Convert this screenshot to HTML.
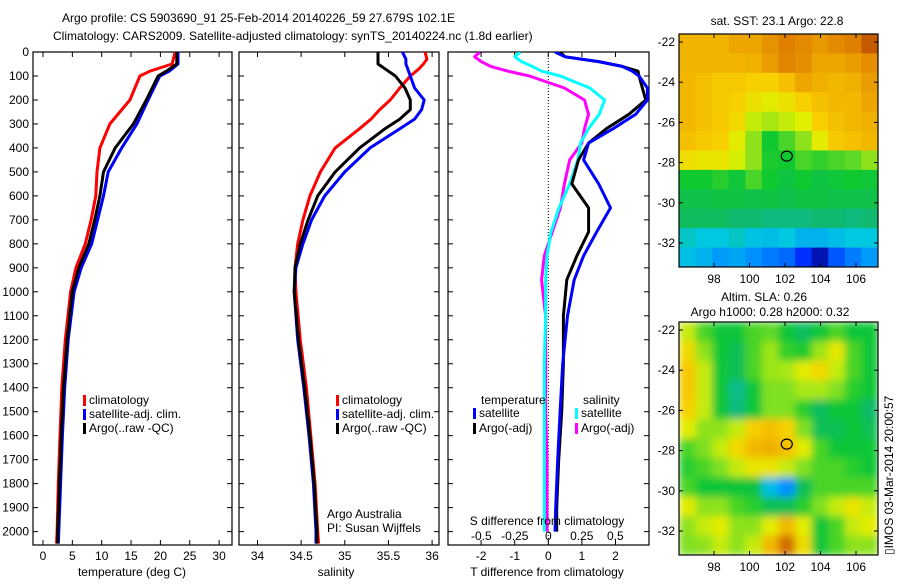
<!DOCTYPE html>
<html><head><meta charset="utf-8"><style>
html,body{margin:0;padding:0;background:#fff;}
svg text{font-family:"Liberation Sans",sans-serif;font-size:12px;fill:#000;}
</style></head><body>
<svg id="fig" width="900" height="580" viewBox="0 0 900 580" xmlns="http://www.w3.org/2000/svg">
<defs>
<filter id="blur" x="0" y="0" width="1" height="1"><feGaussianBlur stdDeviation="4" edgeMode="duplicate"/></filter>
<clipPath id="clip1"><rect x="33" y="52" width="199" height="493"/></clipPath>
<clipPath id="clip2"><rect x="239" y="52" width="200" height="493"/></clipPath>
<clipPath id="clip3"><rect x="448" y="52" width="201" height="493"/></clipPath>
<clipPath id="clipm1"><rect x="679" y="34" width="199" height="233"/></clipPath>
<clipPath id="clipm2"><rect x="679" y="322" width="199" height="233"/></clipPath>
</defs>
<text x="62" y="22">Argo profile: CS 5903690_91 25-Feb-2014 20140226_59 27.679S 102.1E</text>
<text x="53" y="40">Climatology: CARS2009. Satellite-adjusted climatology: synTS_20140224.nc (1.8d earlier)</text>
<g id="g1"></g>
<g id="g2"></g>
<g id="g3"></g>
<g id="m1"></g>
<g id="m2"></g>
<text x="777" y="25" text-anchor="middle">sat. SST: 23.1 Argo: 22.8</text>
<text x="764" y="301" text-anchor="middle">Altim. SLA: 0.26</text>
<text x="770" y="316" text-anchor="middle">Argo h1000: 0.28 h2000: 0.32</text>
<text transform="translate(893,555) rotate(-90)">▯IMOS 03-Mar-2014 20:00:57</text>
</svg>
<script>
// ---- data ----
const tDepth = [0,50,80,100,200,300,400,500,600,700,800,900,1000,1200,1400,1600,1800,2000,2050];
const tClim  = [22.5,22,18.2,16.5,14.8,11.4,9.7,9.2,9,8.2,7.2,5.6,4.7,3.8,3.2,2.9,2.6,2.4,2.3];
const tSat   = [23,23,21.5,19.9,17.9,16,13.4,11.1,10.3,9.3,8.3,6.5,5.3,4.3,3.7,3.3,3,2.7,2.6];
const tArgo  = [22.8,22.8,21,19.6,17.6,15.4,12.3,10.3,9.7,8.8,7.8,6.1,5.0,4.1,3.5,3.1,2.8,2.5,2.5];
const sDepth = [0,30,50,70,100,150,200,240,280,320,400,500,600,700,800,900,1000,1200,1400,1600,1800,2000,2050];
const sClim  = [35.92,35.94,35.9,35.85,35.75,35.63,35.52,35.4,35.3,35.17,34.89,34.72,34.6,34.52,34.46,34.43,34.44,34.49,34.56,34.61,34.66,34.69,34.7];
const sSat   = [35.66,35.7,35.7,35.72,35.75,35.8,35.91,35.88,35.8,35.63,35.29,35.0,34.77,34.62,34.52,34.44,34.42,34.46,34.53,34.59,34.64,34.67,34.67];
const sArgo  = [35.38,35.38,35.38,35.46,35.58,35.69,35.75,35.75,35.63,35.46,35.17,34.89,34.69,34.58,34.49,34.43,34.42,34.47,34.54,34.6,34.65,34.68,34.68];
const dDepth = [0,20,40,60,80,100,150,200,260,320,380,450,550,650,750,850,950,1100,1300,1500,1700,1900,2000];
const dTsat  = [0.2,0.5,1.5,2.2,2.5,2.7,2.95,2.95,2.6,1.93,1.2,1.05,1.5,1.85,1.44,1.05,0.77,0.57,0.43,0.35,0.28,0.22,0.2];
const dTargo = [0.34,0.5,1.5,2.2,2.67,2.7,2.8,2.9,2.4,1.73,1.2,0.9,0.7,1.2,1.2,0.85,0.55,0.45,0.45,0.4,0.31,0.25,0.25];
const dSsat  = [-0.21,-0.25,-0.2,-0.12,-0.05,0.09,0.31,0.42,0.38,0.3,0.24,0.22,0.16,0.08,0.02,-0.01,-0.02,-0.02,-0.03,-0.03,-0.03,-0.03,-0.03];
const dSargo = [-0.51,-0.55,-0.5,-0.43,-0.3,-0.14,0.12,0.27,0.3,0.27,0.25,0.16,0.12,0.09,0.03,-0.03,-0.05,-0.02,-0.02,-0.02,-0.01,-0.01,-0.01];
const depthTicks = [0,100,200,300,400,500,600,700,800,900,1000,1100,1200,1300,1400,1500,1600,1700,1800,1900,2000];
const tTicks = [0,5,10,15,20,25,30];
const sTicks = [34,34.5,35,35.5,36];
const dTticks = [-2,-1,0,1,2];
const dSticks = [-0.5,-0.25,0,0.25,0.5];
const latTicks = [-22,-24,-26,-28,-30,-32];
const lonTicks = [98,100,102,104,106];
const sstGrid = [
[0.77,0.77,0.77,0.8,0.8,0.84,0.88,0.86,0.83,0.86,0.88,0.95],
[0.77,0.77,0.77,0.77,0.78,0.82,0.87,0.85,0.8,0.8,0.82,0.85],
[0.76,0.74,0.72,0.72,0.7,0.7,0.74,0.8,0.78,0.76,0.78,0.82],
[0.76,0.74,0.72,0.7,0.66,0.63,0.66,0.7,0.74,0.76,0.76,0.8],
[0.76,0.74,0.72,0.68,0.6,0.58,0.6,0.62,0.7,0.74,0.76,0.78],
[0.74,0.72,0.7,0.63,0.56,0.45,0.5,0.56,0.63,0.72,0.74,0.76],
[0.67,0.65,0.65,0.61,0.56,0.46,0.45,0.5,0.48,0.5,0.52,0.56],
[0.45,0.45,0.47,0.44,0.5,0.45,0.43,0.45,0.43,0.44,0.45,0.44],
[0.42,0.42,0.43,0.43,0.42,0.43,0.42,0.43,0.43,0.42,0.42,0.42],
[0.4,0.4,0.4,0.38,0.38,0.37,0.37,0.37,0.38,0.38,0.37,0.38],
[0.32,0.3,0.3,0.32,0.29,0.28,0.3,0.26,0.26,0.28,0.3,0.3],
[0.28,0.26,0.22,0.24,0.2,0.18,0.16,0.1,0.04,0.14,0.18,0.22]];
const slaGrid = [
[0.6,0.5,0.44,0.44,0.5,0.52,0.44,0.4,0.44,0.5,0.44,0.44],
[0.67,0.56,0.44,0.41,0.5,0.57,0.48,0.46,0.57,0.64,0.5,0.44],
[0.72,0.6,0.44,0.41,0.5,0.57,0.58,0.63,0.68,0.6,0.5,0.44],
[0.72,0.6,0.44,0.36,0.44,0.55,0.55,0.58,0.58,0.55,0.47,0.44],
[0.7,0.6,0.44,0.37,0.44,0.55,0.55,0.47,0.4,0.44,0.44,0.39],
[0.63,0.56,0.56,0.6,0.7,0.74,0.7,0.55,0.41,0.41,0.44,0.41],
[0.5,0.55,0.6,0.68,0.76,0.78,0.74,0.63,0.5,0.44,0.44,0.44],
[0.47,0.5,0.55,0.6,0.65,0.65,0.6,0.55,0.5,0.5,0.47,0.44],
[0.5,0.44,0.44,0.44,0.43,0.28,0.2,0.41,0.5,0.5,0.5,0.5],
[0.63,0.56,0.56,0.5,0.47,0.41,0.41,0.47,0.55,0.6,0.65,0.6],
[0.56,0.6,0.63,0.56,0.56,0.63,0.76,0.63,0.44,0.5,0.6,0.63],
[0.55,0.56,0.6,0.56,0.6,0.76,0.92,0.67,0.44,0.5,0.56,0.56]];

// ---- helpers ----
const NS = "http://www.w3.org/2000/svg";
function mk(tag, attrs, parent){const e=document.createElementNS(NS,tag);for(const k in attrs)e.setAttribute(k,attrs[k]);parent.appendChild(e);return e;}
const yD = d => 52 + d*0.2398;
const xT = t => 43 + t*5.87;
const xS = s => 257.5 + (s-34)*87.3;
const xDT = t => 548.3 + t*33.6;
const xDS = s => 548.3 + s*134;

function frame(g, x0, x1, y0, y1, name){
  const r = mk('rect',{x:x0,y:y0,width:x1-x0,height:y1-y0,fill:'none',stroke:'#000','stroke-width':1.2},g);
  
  
}
function yTicks(g, x0, x1, labels){
  depthTicks.forEach(d=>{
    const y=yD(d);
    mk('line',{x1:x0,x2:x0+5,y1:y,y2:y,stroke:'#000'},g);
    mk('line',{x1:x1-5,x2:x1,y1:y,y2:y,stroke:'#000'},g);
    if(labels){
      const t=mk('text',{x:x0-4,y:y+4,'text-anchor':'end'},g);
      t.textContent=d;
      
      
    }
  });
}
function xTicks(g, ticks, fx, y0, y1, ly, name){
  ticks.forEach(v=>{
    const x=fx(v);
    mk('line',{x1:x,x2:x,y1:y1,y2:y1-5,stroke:'#000'},g);
    mk('line',{x1:x,x2:x,y1:y0,y2:y0+5,stroke:'#000'},g);
    const t=mk('text',{x:x,y:ly,'text-anchor':'middle'},g);
    t.textContent=(v<0?'-':'')+Math.abs(v);
    
    
  });
}
function line(g, depths, vals, fx, color, name, w){
  const pts = depths.map((d,i)=>fx(vals[i]).toFixed(1)+','+yD(d).toFixed(1)).join(' ');
  const p = mk('polyline',{points:pts,fill:'none',stroke:color,'stroke-width':w||3,'stroke-linejoin':'round'},g);
  
  
}
function legend(g, x, y, color, label){
  mk('rect',{x:x,y:y-9,width:3,height:11,fill:color},g);
  const t=mk('text',{x:x+6,y:y},g);
  t.textContent=label;
  
  
}

// ---- panel 1: temperature ----
const g1=document.getElementById('g1');
frame(g1,33,232,52,545,'temperature-axes');
yTicks(g1,33,232,true);
xTicks(g1,tTicks,xT,52,545,560,'temperature-tick-label');
const c1=mk('g',{'clip-path':'url(#clip1)'},g1);
line(c1,tDepth,tClim,xT,'#f00','temperature-climatology-line');
line(c1,tDepth,tSat,xT,'#00f','temperature-satellite-line');
line(c1,tDepth,tArgo,xT,'#000','temperature-argo-line');
legend(g1,83,404,'#f00','climatology');
legend(g1,83,418,'#00f','satellite-adj. clim.');
legend(g1,83,432,'#000','Argo(..raw -QC)');
let t=mk('text',{x:132,y:576,'text-anchor':'middle'},g1);t.textContent='temperature (deg C)';



// ---- panel 2: salinity ----
const g2=document.getElementById('g2');
frame(g2,239,439,52,545,'salinity-axes');
yTicks(g2,239,439,false);
xTicks(g2,sTicks,xS,52,545,560,'salinity-tick-label');
const c2=mk('g',{'clip-path':'url(#clip2)'},g2);
line(c2,sDepth,sClim,xS,'#f00','salinity-climatology-line');
line(c2,sDepth,sSat,xS,'#00f','salinity-satellite-line');
line(c2,sDepth,sArgo,xS,'#000','salinity-argo-line');
legend(g2,336,404,'#f00','climatology');
legend(g2,336,418,'#00f','satellite-adj. clim.');
legend(g2,336,432,'#000','Argo(..raw -QC)');
t=mk('text',{x:327,y:518},g2);t.textContent='Argo Australia';


t=mk('text',{x:327,y:532},g2);t.textContent='PI: Susan Wijffels';


t=mk('text',{x:336,y:576,'text-anchor':'middle'},g2);t.textContent='salinity';



// ---- panel 3: differences ----
const g3=document.getElementById('g3');
frame(g3,448,649,52,545,'difference-axes');
yTicks(g3,448,649,false);
mk('line',{x1:xDT(0),x2:xDT(0),y1:52,y2:545,stroke:'#000','stroke-dasharray':'1,2'},g3);
xTicks(g3,dTticks,xDT,52,545,560,'t-difference-tick-label');
dSticks.forEach(v=>{
  const l=mk('text',{x:xDS(v),y:540,'text-anchor':'middle'},g3);
  l.textContent=(v<0?'-':'')+Math.abs(v);
  
  
});
const c3=mk('g',{'clip-path':'url(#clip3)'},g3);
line(c3,dDepth,dSargo,xDS,'#f0f','salinity-argo-difference-line');
line(c3,dDepth,dSsat,xDS,'#0ff','salinity-satellite-difference-line');
line(c3,dDepth,dTargo,xDT,'#000','temperature-argo-difference-line');
line(c3,dDepth,dTsat,xDT,'#00f','temperature-satellite-difference-line');
t=mk('text',{x:481,y:404},g3);t.textContent='temperature';


t=mk('text',{x:583,y:404},g3);t.textContent='salinity';


legend(g3,473,417,'#00f','satellite');
legend(g3,473,432,'#000','Argo(-adj)');
legend(g3,575,417,'#0ff','satellite');
legend(g3,575,432,'#f0f','Argo(-adj)');
t=mk('text',{x:547,y:525,'text-anchor':'middle'},g3);t.textContent='S difference from climatology';


t=mk('text',{x:547,y:576,'text-anchor':'middle'},g3);t.textContent='T difference from climatology';



// ---- maps ----
const stops=[[0,[0,0,128]],[0.1,[0,48,255]],[0.2,[0,144,255]],[0.3,[0,200,224]],[0.38,[16,184,112]],[0.45,[16,200,48]],[0.55,[128,224,32]],[0.62,[224,240,0]],[0.7,[248,208,0]],[0.78,[240,176,0]],[0.88,[224,128,0]],[1,[176,64,0]]];
function cmap(v){
  for(let i=1;i<stops.length;i++){
    if(v<=stops[i][0]){const a=stops[i-1],b=stops[i];const f=(v-a[0])/(b[0]-a[0]);
      const c=a[1].map((x,k)=>Math.round(x+(b[1][k]-x)*f));return 'rgb('+c.join(',')+')';}
  }
  return 'rgb(176,64,0)';
}
function map(gid, grid, y0, blur, clip, name){
  const g=document.getElementById(gid);
  const x0=679,w=199,h=233;
  const inner=mk('g',{'clip-path':'url(#'+clip+')'},g);
  const cg=mk('g',blur?{filter:'url(#blur)'}:{},inner);
  const nr=grid.length,nc=grid[0].length,cw=w/nc,ch=h/nr;
  grid.forEach((row,r)=>row.forEach((v,c)=>{
    const cell=mk('rect',{x:x0+c*cw,y:y0+r*ch,width:cw+0.6,height:ch+0.6,fill:cmap(v)},cg);
    
    
  }));
  frame(g,x0,x0+w,y0,y0+h,name+'-axes');
  const latY = la => y0 + 8 + (-22-la)*20.1;
  const lonX = lo => 714 + (lo-98)*17.75;
  latTicks.forEach(la=>{
    const y=latY(la);
    mk('line',{x1:x0,x2:x0+4,y1:y,y2:y,stroke:'#000'},g);
    mk('line',{x1:x0+w-4,x2:x0+w,y1:y,y2:y,stroke:'#000'},g);
    const l=mk('text',{x:x0-4,y:y+4,'text-anchor':'end'},g);l.textContent=la;
    
    
  });
  lonTicks.forEach(lo=>{
    const x=lonX(lo);
    mk('line',{x1:x,x2:x,y1:y0,y2:y0+4,stroke:'#000'},g);
    mk('line',{x1:x,x2:x,y1:y0+h,y2:y0+h-4,stroke:'#000'},g);
    const l=mk('text',{x:x,y:y0+h+16,'text-anchor':'middle'},g);l.textContent=lo;
    
    
  });
  const m=mk('ellipse',{cx:lonX(102.1),cy:latY(-27.679),rx:5.5,ry:5,fill:'none',stroke:'#000','stroke-width':1.2},g);
  
  
}
map('m1',sstGrid,34,false,'clipm1','sst-map');
map('m2',slaGrid,322,true,'clipm2','sla-map');
</script>
</body></html>
